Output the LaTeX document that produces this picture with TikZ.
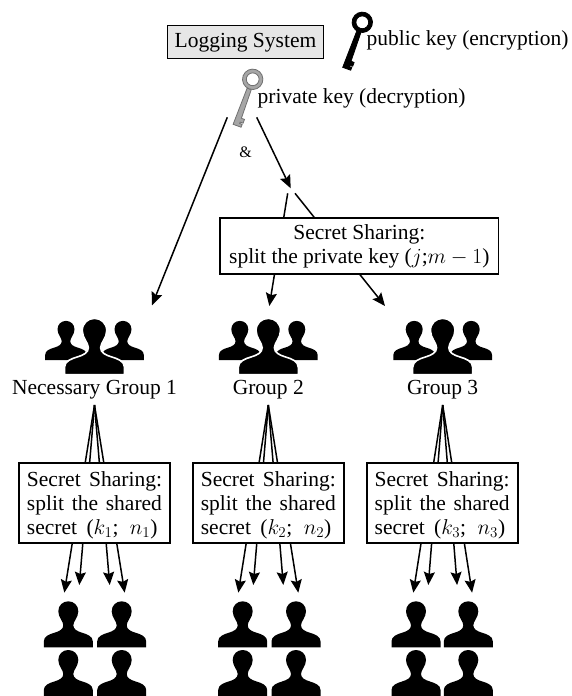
\documentclass[tikz,border=0pt]{standalone}
\usepackage{fix-cm}
\usepackage[no-math]{fontspec}
\setmainfont{Liberation Serif}
\usetikzlibrary{arrows.meta}
\definecolor{logfill}{HTML}{E6E6E6}
\definecolor{keygray}{HTML}{A6A6A6}
\definecolor{keyedge}{HTML}{707070}
\newcommand{\bodytext}{\fontsize{21.5}{24}\selectfont}
% person icon: origin bottom centre, y up
\newcommand{\personicon}[4][]{%
  \path[fill=black,shift={(#2,#3)},scale=#4,yscale=-1,#1]
    (-24.5,0) -- (-24.5,6) .. controls (-24.5,11) and (-19,13) .. (-14,14.5)
    .. controls (-9,16) and (-5,18) .. (-5,22)
    .. controls (-5,26) and (-10,30) .. (-10,36)
    .. controls (-10,42) and (-5.5,46) .. (0,46)
    .. controls (5.5,46) and (10,42) .. (10,36)
    .. controls (10,30) and (5,26) .. (5,22)
    .. controls (5,18) and (9,16) .. (14,14.5)
    .. controls (19,13) and (24.5,11) .. (24.5,6)
    -- (24.5,0) -- cycle;}
% key icon: origin ring centre, shaft towards -y
\newcommand{\keyicon}[5]{%
  \path[fill=#4,draw=#5,line width=.8pt,shift={(#1,#2)},rotate=-20,yscale=-1]
    (-2.2,-#3) -- (-3,-49) -- (5.5,-49) -- (5.5,-46) -- (2.9,-46)
    -- (2.8,-44.5) -- (6,-44.5) -- (6,-40.5) -- (2.7,-40.5) -- (2.2,-#3) -- cycle;
  \path[fill=#4,draw=#5,line width=.8pt,even odd rule,shift={(#1,#2)},rotate=-20,yscale=-1]
    (0,0) circle[radius=#3] (0,0) circle[radius=6.4];}
\tikzset{
  plain/.style={inner sep=0pt,outer sep=0pt,font=\bodytext},
  splitbox/.style={draw=black,line width=1.8pt,fill=white,inner sep=0pt,align=center,font=\bodytext},
  conn/.style={line width=1.5pt,-{Stealth[length=13pt,width=11pt,inset=2pt]}},
}
\begin{document}
\begin{tikzpicture}[x=1pt,y=-1pt]
\useasboundingbox (0,0) rectangle (571,696);
% coordinates
\coordinate (pkL) at (227.3,117.3);
\coordinate (pkR) at (256.7,117.3);
\coordinate (g1in) at (152,305.3);
\coordinate (mid) at (290.7,188.3);
\coordinate (midL) at (287.7,193.3);
\coordinate (midR) at (295,193.3);
\coordinate (g2in) at (269.3,306);
\coordinate (g3in) at (385,306);
\draw[conn] (pkL) -- (g1in);
\draw[conn] (pkR) -- (mid);
\draw[conn] (midL) -- (g2in);
\draw[conn] (midR) -- (g3in);
% top boxes and labels
\node[draw=black,line width=1.8pt,fill=logfill,plain,minimum width=156pt,minimum height=33pt] (log) at (245.5,42) {\rule{0pt}{16pt}Logging System};
\keyicon{362.3}{22.3}{10.2}{black}{black}
\node[plain,anchor=west] (pub) at (366.7,40.5) {public key (encryption)};
\keyicon{252.7}{79.3}{10.2}{keygray}{keyedge}
\node[plain,anchor=west] (priv) at (257.7,98) {private key (decryption)};
\node[plain,font=\fontsize{16}{18}\selectfont] (amp) at (245.7,152.7) {\&};
\node[splitbox,minimum width=278.5pt,minimum height=56.5pt] (ss) at (359.3,246) {Secret Sharing:\\split the private key ($j$;$m-1$)};
% groups
\foreach \gx/\gname/\gi/\glabel/\ga/\gb/\gl/\gr/\pa/\pb in {
  94.5/g1/1/Necessary Group 1/-30.2/-15.2/19/170/68.3/121.7,
  268.3/g2/2/Group 2/-30/-15/192.7/344/242.7/296,
  442.7/g3/3/Group 3/-29.4/-14.4/366.7/517.7/416/468.3}{
  \personicon{\gx-28.5}{360}{0.85}
  \personicon{\gx+28.5}{360}{0.85}
  \personicon[draw=white,line width=1.6pt]{\gx}{374.7}{1.225}
  \node[plain,anchor=base,font=\bodytext] (\gname) at (\gx,394.5) {\glabel};
  \coordinate (\gname top) at (\gx,405);
  \coordinate (\gname a) at (\gx+\ga,592.7);
  \coordinate (\gname b) at (\gx+\gb,585);
  \coordinate (\gname c) at (\gx-\gb,585);
  \coordinate (\gname d) at (\gx-\ga,592.7);
  \draw[conn] (\gname top) -- (\gname a);
  \draw[conn] (\gname top) -- (\gname b);
  \draw[conn] (\gname top) -- (\gname c);
  \draw[conn] (\gname top) -- (\gname d);
  \pgfmathsetmacro{\bx}{(\gl+\gr)/2}
  \pgfmathsetmacro{\bw}{\gr-\gl}
  \node[splitbox,minimum width=\bw pt,minimum height=80.5pt] (box\gi) at (\bx,503) {%
    \rule{0pt}{20pt}\makebox[135pt][s]{Secret Sharing:}\\
    \makebox[135pt][s]{split the shared}\\
    \makebox[135pt][l]{\makebox[130.5pt][s]{secret ($k_{\gi}$; $n_{\gi}$)}}};
  \personicon{\pa}{647.3}{1}
  \personicon{\pb}{647.3}{1}
  \personicon{\pa}{696}{1}
  \personicon{\pb}{696}{1}
}
\end{tikzpicture}
\end{document}
